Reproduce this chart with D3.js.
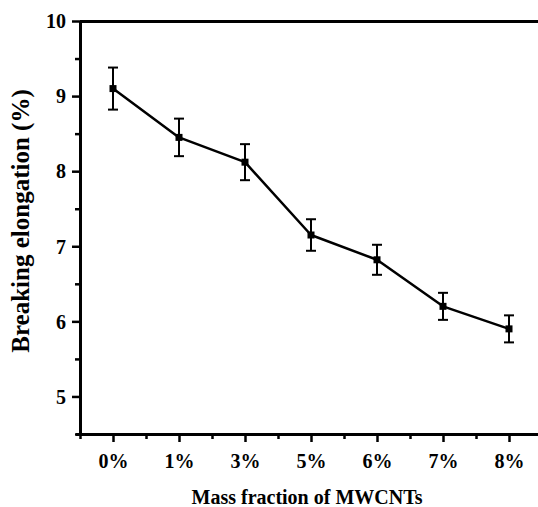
<!DOCTYPE html>
<html>
<head>
<meta charset="utf-8">
<script src="https://cdn.jsdelivr.net/npm/d3@7"></script>
<style>
  html, body { margin: 0; padding: 0; background: #fff; }
  svg { display: block; }
  text { font-family: "Liberation Serif", "Times New Roman", serif; font-weight: bold; fill: #000; }
</style>
</head>
<body>
<svg id="chart" width="538" height="507"></svg>
<script>
// MWCNT loading levels and measured breaking elongation (mean ± error)
const fractions = ["0%", "1%", "3%", "5%", "6%", "7%", "8%"];
const elongation = [9.10, 8.45, 8.12, 7.15, 6.82, 6.20, 5.90];
const errors = [0.28, 0.25, 0.24, 0.21, 0.20, 0.18, 0.18];
const yTicks = [5, 6, 7, 8, 9, 10];
const yMinorTicks = [4.5, 5.5, 6.5, 7.5, 8.5, 9.5];

const svg = d3.select("#chart");
const W = 538, H = 507;
const plotLeft = 80, plotTop = 21, plotBottom = 434;
const serif = '"Liberation Serif", "Times New Roman", serif';

// categories sit at integer positions, half-steps carry the minor ticks
const x = d3.scaleLinear().domain([-0.5, fractions.length - 0.5]).range([plotLeft, plotLeft + 66 * fractions.length]);
const y = d3.scaleLinear().domain([4.5, 10]).range([plotBottom, plotTop]);

const data = fractions.map((f, i) => ({ f, i, v: elongation[i], e: errors[i] }));

// minor ticks
svg.append("g")
  .attr("transform", `translate(${plotLeft},0)`)
  .call(d3.axisLeft(y).tickValues(yMinorTicks).tickSize(5).tickFormat(""))
  .call(g => g.select(".domain").remove())
  .call(g => g.selectAll("line").attr("stroke-width", 2.5));

svg.append("g")
  .attr("transform", `translate(0,${plotBottom})`)
  .call(d3.axisBottom(x).tickValues(d3.range(-0.5, fractions.length, 1)).tickSize(5).tickFormat(""))
  .call(g => g.select(".domain").remove())
  .call(g => g.selectAll("line").attr("stroke-width", 2.5));

// y axis
const yAxis = svg.append("g")
  .attr("transform", `translate(${plotLeft},0)`)
  .call(d3.axisLeft(y).tickValues(yTicks).tickSize(8).tickPadding(6).tickSizeOuter(0).tickFormat(d3.format("d")))
  .attr("font-family", serif).attr("font-size", 20);
yAxis.select(".domain").attr("stroke-width", 3);
yAxis.selectAll(".tick line").attr("stroke-width", 2.5);
yAxis.selectAll(".tick text").attr("dy", "0.34em");

// x axis
const xAxis = svg.append("g")
  .attr("transform", `translate(0,${plotBottom})`)
  .call(d3.axisBottom(x).tickValues(d3.range(fractions.length)).tickSize(8).tickPadding(12)
    .tickSizeOuter(0).tickFormat(i => fractions[i]))
  .attr("font-family", serif).attr("font-size", 20);
xAxis.select(".domain").attr("stroke-width", 3).attr("d", `M${plotLeft - 4},0.5H${W}`);
xAxis.selectAll(".tick line").attr("stroke-width", 2.5);

// top frame line
const topAxis = svg.append("g")
  .attr("transform", `translate(0,${plotTop})`)
  .call(d3.axisTop(x).tickValues([]).tickSizeOuter(0));
topAxis.select(".domain").attr("stroke-width", 3).attr("d", `M${plotLeft},0.5H${W}`);

// connecting line
svg.append("path")
  .datum(data)
  .attr("fill", "none")
  .attr("stroke", "#000")
  .attr("stroke-width", 2.5)
  .attr("stroke-linejoin", "round")
  .attr("d", d3.line().x(d => x(d.i)).y(d => y(d.v)));

// error bars
const eb = svg.append("g").attr("stroke", "#000").attr("stroke-width", 2);
eb.selectAll("line.stem").data(data).join("line")
  .attr("x1", d => x(d.i)).attr("x2", d => x(d.i))
  .attr("y1", d => y(d.v + d.e)).attr("y2", d => y(d.v - d.e));
eb.selectAll("line.capT").data(data).join("line")
  .attr("x1", d => x(d.i) - 5).attr("x2", d => x(d.i) + 5)
  .attr("y1", d => y(d.v + d.e)).attr("y2", d => y(d.v + d.e));
eb.selectAll("line.capB").data(data).join("line")
  .attr("x1", d => x(d.i) - 5).attr("x2", d => x(d.i) + 5)
  .attr("y1", d => y(d.v - d.e)).attr("y2", d => y(d.v - d.e));

// square markers
svg.append("g").selectAll("rect").data(data).join("rect")
  .attr("x", d => x(d.i) - 3.5).attr("y", d => y(d.v) - 3.5)
  .attr("width", 7).attr("height", 7)
  .attr("fill", "#000");

// axis titles
svg.append("text")
  .attr("x", 307).attr("y", 504)
  .attr("text-anchor", "middle")
  .attr("font-size", 20)
  .text("Mass fraction of MWCNTs");

svg.append("text")
  .attr("transform", "translate(29,221) rotate(-90)")
  .attr("text-anchor", "middle")
  .attr("font-size", 25)
  .text("Breaking elongation (%)");
</script>
</body>
</html>
